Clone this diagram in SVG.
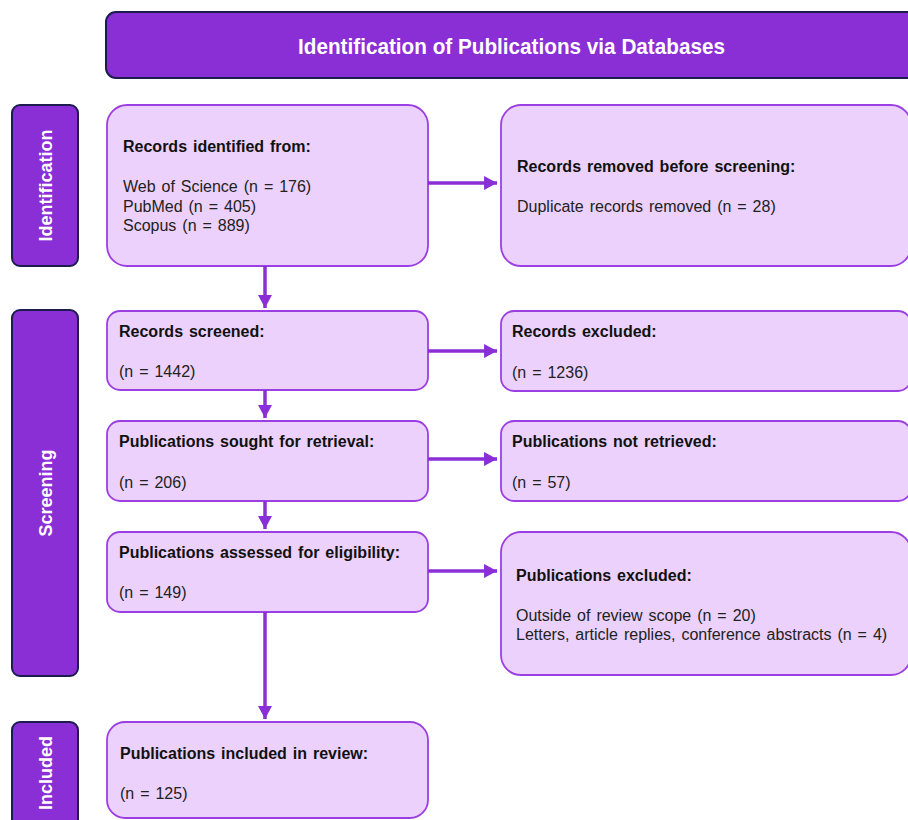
<svg xmlns="http://www.w3.org/2000/svg" width="908" height="820" viewBox="0 0 908 820">
<defs>
<style>
.hdr{fill:#8A2ED6;stroke:#1C1D4E;stroke-width:2}
.side{fill:#8A2ED6;stroke:#1C1D4E;stroke-width:2}
.box{fill:#EBD1FB;stroke:#9C3FE2;stroke-width:1.8}
.ht{font-family:"Liberation Sans Narrow","Liberation Sans",Arial,sans-serif;font-weight:bold;font-size:22px;fill:#fff}
.st{font-family:"Liberation Sans",Arial,sans-serif;font-weight:bold;font-size:18px;fill:#fff;text-anchor:middle}
.b{font-family:"Liberation Sans",Arial,sans-serif;font-weight:bold;font-size:16px;fill:#111;word-spacing:1.5px}
.t{font-family:"Liberation Sans",Arial,sans-serif;font-size:16px;fill:#222;word-spacing:1.5px}
.con line{stroke:#8A2ED6;stroke-width:3.5}
</style>
<marker id="ah" markerUnits="userSpaceOnUse" markerWidth="14" markerHeight="14" viewBox="0 0 12 13" refX="12" refY="6.5" orient="auto">
<path d="M0,0 L12,6.5 L0,13 Z" fill="#8A2ED6"/>
</marker>
</defs>
<rect width="908" height="820" fill="#fff"/>

<g id="header">
<rect class="hdr" x="106" y="12" width="820" height="66" rx="10"/>
<text class="ht" x="298" y="54" textLength="427" lengthAdjust="spacingAndGlyphs">Identification of Publications via Databases</text>
</g>

<g id="stage-identification">
<rect class="side" x="12" y="105" width="66" height="161" rx="8"/>
<text class="st" transform="translate(52,185.5) rotate(-90)">Identification</text>
</g>
<g id="stage-screening">
<rect class="side" x="12" y="310" width="66" height="366" rx="8"/>
<text class="st" transform="translate(52,493) rotate(-90)">Screening</text>
</g>
<g id="stage-included">
<rect class="side" x="12" y="722" width="66" height="110" rx="8"/>
<text class="st" transform="translate(52,773) rotate(-90)">Included</text>
</g>

<g id="records-identified">
<rect class="box" x="107" y="105" width="321" height="161" rx="20"/>
<text class="b" x="123" y="152">Records identified from:</text>
<text class="t" x="123" y="192">Web of Science (n = 176)</text>
<text class="t" x="123" y="212">PubMed (n = 405)</text>
<text class="t" x="123" y="231">Scopus (n = 889)</text>
</g>
<g id="records-removed">
<rect class="box" x="501" y="105" width="410" height="161" rx="20"/>
<text class="b" x="517" y="172">Records removed before screening:</text>
<text class="t" x="517" y="212">Duplicate records removed (n = 28)</text>
</g>

<g id="records-screened">
<rect class="box" x="107" y="311" width="321" height="79" rx="13"/>
<text class="b" x="119" y="337">Records screened:</text>
<text class="t" x="119" y="377">(n = 1442)</text>
</g>
<g id="records-excluded">
<rect class="box" x="501" y="311" width="410" height="80" rx="13"/>
<text class="b" x="512" y="337">Records excluded:</text>
<text class="t" x="512" y="378">(n = 1236)</text>
</g>

<g id="sought-retrieval">
<rect class="box" x="107" y="421" width="321" height="80" rx="13"/>
<text class="b" x="119" y="447">Publications sought for retrieval:</text>
<text class="t" x="119" y="488">(n = 206)</text>
</g>
<g id="not-retrieved">
<rect class="box" x="501" y="421" width="410" height="80" rx="13"/>
<text class="b" x="512" y="447">Publications not retrieved:</text>
<text class="t" x="512" y="488">(n = 57)</text>
</g>

<g id="assessed-eligibility">
<rect class="box" x="107" y="532" width="321" height="80" rx="13"/>
<text class="b" x="119" y="558">Publications assessed for eligibility:</text>
<text class="t" x="119" y="598">(n = 149)</text>
</g>
<g id="publications-excluded">
<rect class="box" x="501" y="532" width="410" height="143" rx="20"/>
<text class="b" x="516" y="581">Publications excluded:</text>
<text class="t" x="516" y="621">Outside of review scope (n = 20)</text>
<text class="t" x="516" y="640">Letters, article replies, conference abstracts (n = 4)</text>
</g>

<g id="included-review">
<rect class="box" x="107" y="722" width="321" height="96" rx="18"/>
<text class="b" x="120" y="759">Publications included in review:</text>
<text class="t" x="120" y="799">(n = 125)</text>
</g>

<g id="connectors" class="con">
<line x1="428" y1="183" x2="497" y2="183" marker-end="url(#ah)"/>
<line x1="265" y1="266" x2="265" y2="308" marker-end="url(#ah)"/>
<line x1="428" y1="351" x2="497" y2="351" marker-end="url(#ah)"/>
<line x1="265" y1="390" x2="265" y2="418" marker-end="url(#ah)"/>
<line x1="428" y1="459" x2="497" y2="459" marker-end="url(#ah)"/>
<line x1="265" y1="501" x2="265" y2="529" marker-end="url(#ah)"/>
<line x1="428" y1="571" x2="497" y2="571" marker-end="url(#ah)"/>
<line x1="265" y1="612" x2="265" y2="719" marker-end="url(#ah)"/>
</g>
</svg>
